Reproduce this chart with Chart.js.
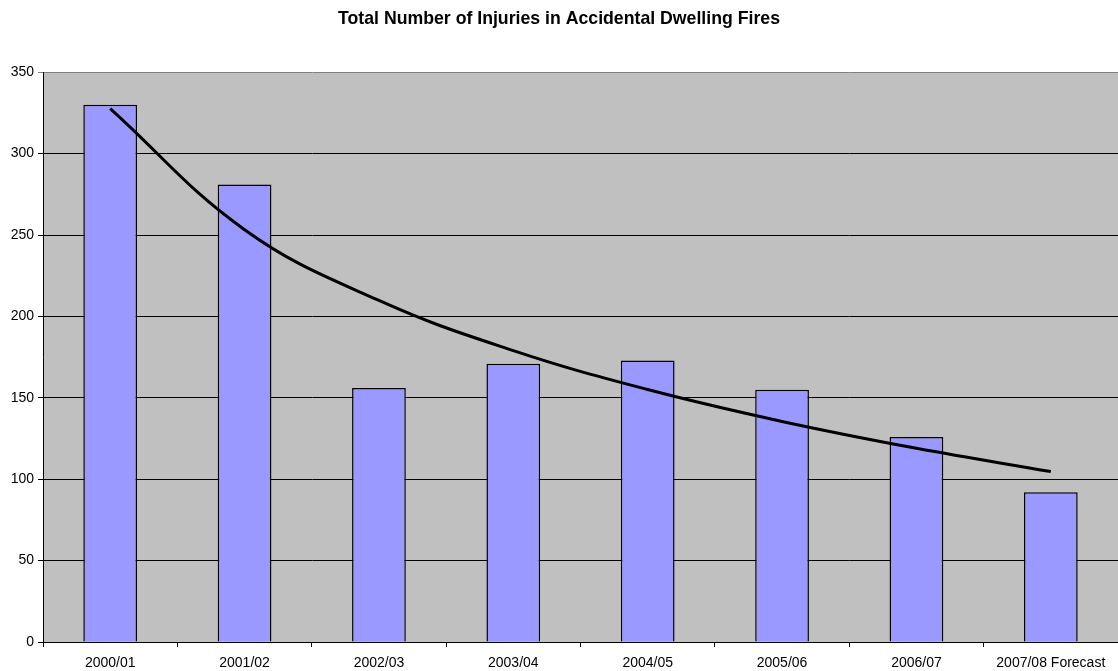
<!DOCTYPE html>
<html>
<head>
<meta charset="utf-8">
<script src="https://cdn.jsdelivr.net/npm/chart.js@4.4.0/dist/chart.umd.min.js"></script>
<style>
html,body{margin:0;padding:0;background:#fff;}
#wrap{width:1118px;height:671px;position:relative;}
</style>
</head>
<body>
<div id="wrap"><canvas id="c"></canvas></div>
<script>
const categories = ["2000/01","2001/02","2002/03","2003/04","2004/05","2005/06","2006/07","2007/08 Forecast"];
const injuries = [330, 281, 156, 171, 173, 155, 126, 92];
const trendValues = [327.6, 253.3, 209.8, 179.0, 155.1, 135.5, 119.0, 104.7];
const yTicks = [0, 50, 100, 150, 200, 250, 300, 350];
const chartTitle = "Total Number of Injuries in Accidental Dwelling Fires";

const bgPlugin = {
  id: 'plotBg',
  beforeDraw(chart) {
    const a = chart.chartArea, ctx = chart.ctx;
    ctx.save();
    ctx.fillStyle = '#C0C0C0';
    ctx.fillRect(a.left, a.top, a.right - a.left, a.bottom - a.top);
    ctx.restore();
  }
};

Chart.defaults.font.family = "'Liberation Sans', Arial, sans-serif";
Chart.defaults.color = '#000';

new Chart(document.getElementById('c'), {
  data: {
    labels: categories,
    datasets: [
      {
        type: 'line',
        data: trendValues,
        borderColor: '#000',
        borderWidth: 3,
        pointRadius: 0,
        tension: 0.4,
        fill: false,
        order: 0
      },
      {
        type: 'bar',
        data: injuries,
        backgroundColor: '#9999FF',
        borderColor: '#000',
        borderWidth: 1.5,
        barPercentage: 0.4,
        categoryPercentage: 1.0,
        order: 1
      }
    ]
  },
  options: {
    responsive: true,
    maintainAspectRatio: false,
    animation: false,
    layout: { padding: { left: 0, right: 0, top: 0, bottom: 0 } },
    plugins: {
      legend: { display: false },
      tooltip: { enabled: false },
      title: {
        display: true,
        text: chartTitle,
        font: { size: 17.7, weight: 'bold' },
        color: '#000',
        padding: { top: 8, bottom: 43 }
      }
    },
    scales: {
      x: {
        offset: true,
        grid: { display: true, offset: true, drawOnChartArea: false, drawTicks: true, tickLength: 5, color: '#000' },
        border: { display: true, color: '#000', width: 1 },
        ticks: { font: { size: 14 }, color: '#000', maxRotation: 0, autoSkip: false, padding: 8 },
        afterFit(s) { s.height = 29; }
      },
      y: {
        min: 0,
        max: 350,
        afterBuildTicks(s) { s.ticks = yTicks.map(v => ({ value: v })); },
        grid: {
          color: (c) => (c.tick && c.tick.value === 350) ? '#808080' : '#000',
          lineWidth: 1, drawTicks: true, tickLength: 5
        },
        border: { display: true, color: '#000', width: 1 },
        ticks: { font: { size: 14 }, color: '#000', padding: 4 },
        afterFit(s) { s.width = 43; }
      }
    }
  },
  plugins: [bgPlugin]
});
</script>
</body>
</html>
